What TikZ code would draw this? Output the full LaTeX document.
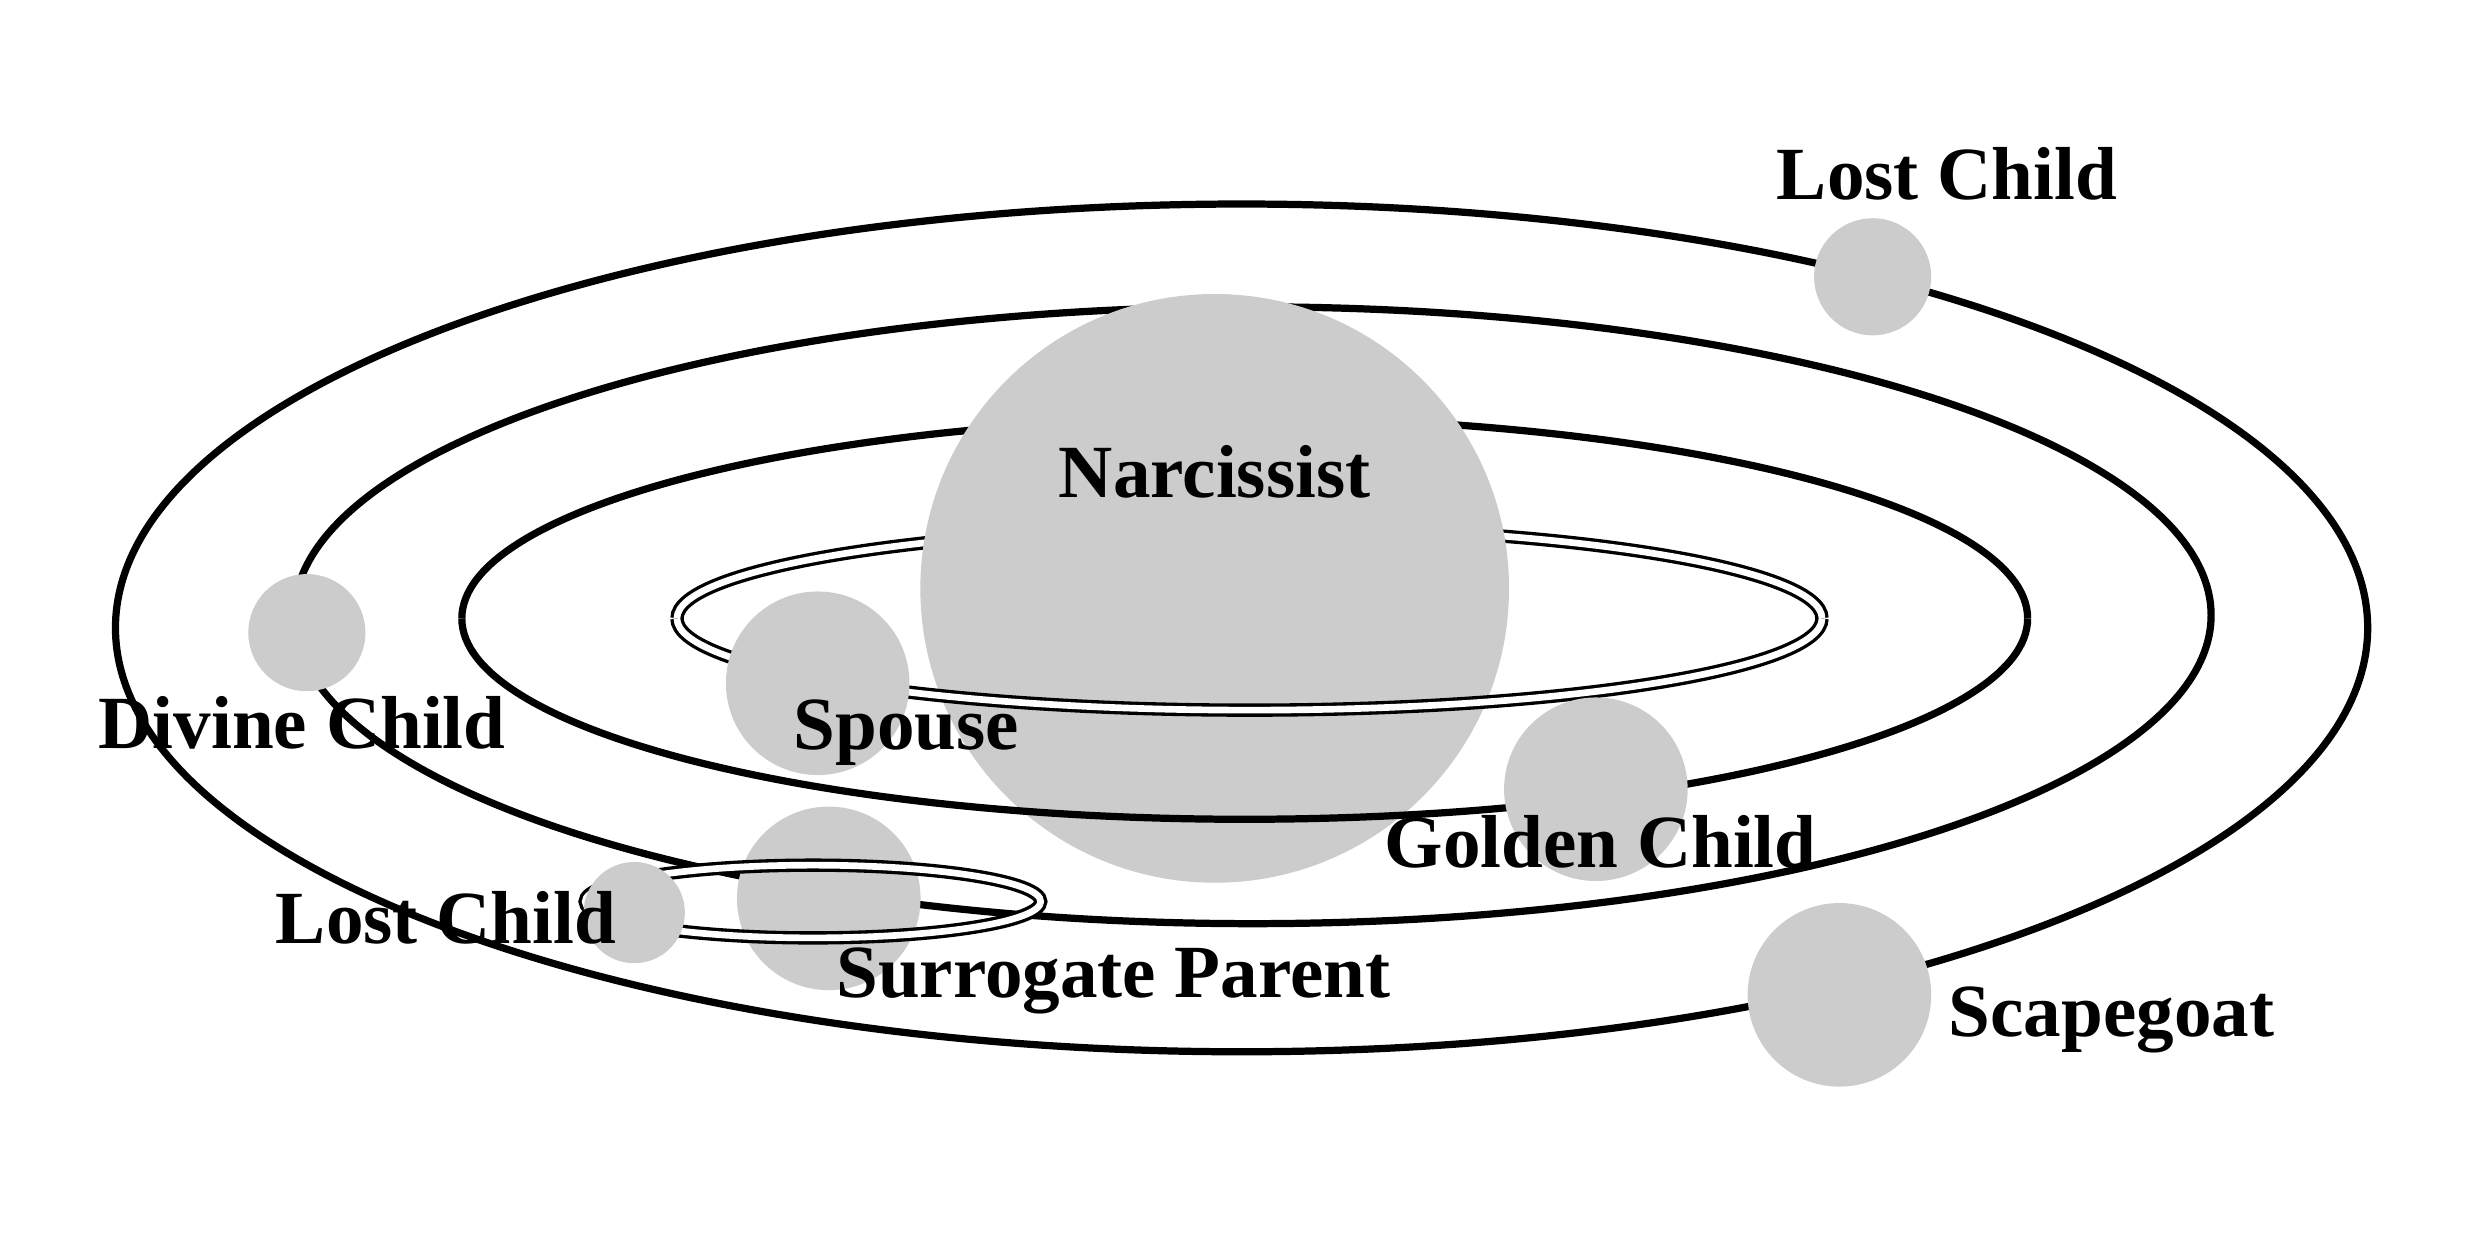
\documentclass[tikz,border=0pt]{standalone}
\usepackage{fontspec}
\setmainfont{Liberation Serif}

\tikzset{
  orbit/.style={draw=black, line width=1.3pt},
  dorbit/.style={draw=black, double=white, double distance=1.2pt, line width=0.6pt},
  planet/.style={circle, fill=black!20, inner sep=0pt},
  tag/.style={font=\fontsize{13.5}{16}\selectfont\bfseries, inner sep=1pt}
}

\begin{document}
\begin{tikzpicture}[x=0.01cm, y=-0.01cm]
  \useasboundingbox (0,0) rectangle (1568,782);

  % back halves of the orbits
  \draw[orbit] (785,397) ellipse [x radius=712, y radius=268];
  \draw[orbit] (792,389) ellipse [x radius=606, y radius=195];
  \draw[orbit] (1282,391) arc [start angle=0, end angle=-180, x radius=495, y radius=127];
  \draw[dorbit] (1152,391) arc [start angle=0, end angle=-180, x radius=362, y radius=58];

  \node[planet, minimum size=3.72cm] (narc) at (768,372) {};

  % front halves over the centre
  \draw[orbit] (1282,391) arc [start angle=0, end angle=180, x radius=495, y radius=127];
  \draw[dorbit] (1152,391) arc [start angle=0, end angle=180, x radius=362, y radius=58];

  \node[planet, minimum size=1.16cm] (spouse) at (517,432) {};
  \node[planet, minimum size=1.16cm] (golden) at (1009,499) {};
  \node[planet, minimum size=1.16cm] (surr) at (524,568) {};
  \node[planet, minimum size=1.16cm] (scape) at (1163,629) {};
  \node[planet, minimum size=0.74cm] (divine) at (194,400) {};
  \node[planet, minimum size=0.74cm] (losttop) at (1184,175) {};

  \draw[dorbit] (514,570) ellipse [x radius=144, y radius=23];
  \node[planet, minimum size=0.64cm] (lostlow) at (401,577) {};

  \node[tag] (tnarc) at (768,298) {Narcissist};
  \node[tag] (tspouse) at (573,463) {Spouse};
  \node[tag] (tgolden) at (1012,532) {Golden Child};
  \node[tag] (tsurr) at (704,620) {Surrogate Parent};
  \node[tag] (tlostlow) at (282,580) {Lost Child};
  \node[tag] (tdivine) at (191,457) {Divine Child};
  \node[tag] (tlosttop) at (1231,110) {Lost Child};
  \node[tag] (tscape) at (1335,645) {Scapegoat};
\end{tikzpicture}
\end{document}
